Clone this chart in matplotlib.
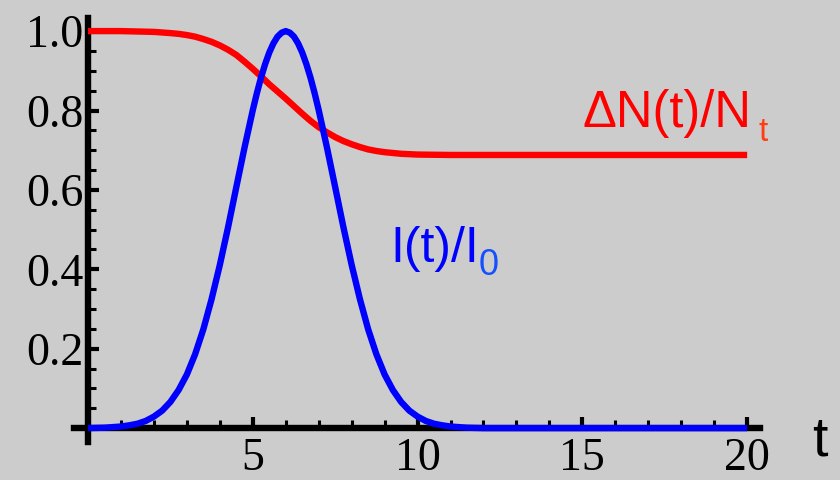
import numpy as np
import matplotlib
matplotlib.use("Agg")
import matplotlib.pyplot as plt
from matplotlib.ticker import MultipleLocator, FixedLocator

# data
t_pop = [0, 0.5, 1, 1.5, 2, 2.5, 2.75, 3, 3.25, 3.5, 3.75, 4, 4.25, 4.5, 4.75,
         5, 5.25, 5.5, 5.75, 6, 6.25, 6.5, 6.75, 7, 7.25, 7.5, 7.75, 8, 8.25,
         8.5, 8.75, 9, 9.25, 9.5, 10, 11, 12, 20]
pop = [1.000, 1.000, 1.000, 0.999, 0.998, 0.995, 0.993, 0.990, 0.986, 0.980,
       0.973, 0.964, 0.953, 0.940, 0.923, 0.905, 0.886, 0.866, 0.848, 0.830,
       0.811, 0.792, 0.774, 0.758, 0.745, 0.733, 0.723, 0.715, 0.708, 0.702,
       0.698, 0.695, 0.693, 0.691, 0.689, 0.688, 0.688, 0.688]

t_int = [0, 0.5, 1, 1.25, 1.5, 1.75, 2, 2.25, 2.5, 2.75, 3, 3.25, 3.5, 3.75,
         4, 4.25, 4.5, 4.75, 5, 5.125, 5.25, 5.375, 5.5, 5.625, 5.75, 5.875,
         6, 6.125, 6.25, 6.375, 6.5, 6.625, 6.75, 6.875, 7, 7.25, 7.5, 7.75,
         8, 8.25, 8.5, 8.75, 9, 9.25, 9.5, 9.75, 10, 10.25, 10.5, 10.75, 11,
         11.5, 12, 13, 20]
inten = [0.000, 0.001, 0.004, 0.007, 0.011, 0.018, 0.029, 0.044, 0.066, 0.096,
         0.135, 0.186, 0.249, 0.325, 0.411, 0.506, 0.607, 0.707, 0.801, 0.844,
         0.883, 0.917, 0.946, 0.969, 0.986, 0.996, 1.000, 0.996, 0.986, 0.969,
         0.946, 0.917, 0.883, 0.844, 0.801, 0.707, 0.607, 0.506, 0.411, 0.325,
         0.249, 0.186, 0.135, 0.096, 0.066, 0.044, 0.029, 0.018, 0.011, 0.007,
         0.004, 0.001, 0.000, 0.000, 0.000]

x_major = [5, 10, 15, 20]
y_major = [0.2, 0.4, 0.6, 0.8, 1.0]

bg = "#cccccc"
serif = ["Liberation Serif", "DejaVu Serif"]
sans = ["Liberation Sans", "DejaVu Sans"]

fig = plt.figure(figsize=(8.4, 4.8), dpi=100, facecolor=bg)
ax = fig.add_axes([74 / 840, 38 / 480, 686 / 840, 424 / 480])
ax.set_facecolor(bg)

ax.plot(t_pop, pop, color="#ff0000", lw=4.6, zorder=3, solid_capstyle="butt",
        solid_joinstyle="round")
ax.plot(t_int, inten, color="#0000ff", lw=4.6, zorder=3, solid_capstyle="butt",
        solid_joinstyle="round")

ax.set_xlim(-0.425, 20.39)
ax.set_ylim(-0.035, 1.033)

for s in ["top", "right"]:
    ax.spines[s].set_visible(False)
for s in ["left", "bottom"]:
    ax.spines[s].set_position(("data", 0))
    ax.spines[s].set_linewidth(4.6)
    ax.spines[s].set_color("black")

ax.xaxis.set_major_locator(FixedLocator(x_major))
ax.xaxis.set_minor_locator(MultipleLocator(1))
ax.yaxis.set_major_locator(FixedLocator(y_major))
ax.yaxis.set_minor_locator(MultipleLocator(0.05))
ax.set_xticklabels([str(v) for v in x_major])
ax.set_yticklabels(["%.1f" % v for v in y_major])

ax.tick_params(which="major", direction="in", length=8, width=3, color="black")
ax.tick_params(which="minor", direction="in", length=6, width=2.2, color="black")
ax.tick_params(axis="x", which="major", pad=7)
ax.tick_params(axis="y", which="major", pad=3.5)
for lab in ax.get_xticklabels() + ax.get_yticklabels():
    lab.set_family(serif)
    lab.set_fontsize(33)

ax.text(1.087, 0.0, "t", transform=ax.transAxes, ha="center", va="center",
        fontsize=40, family=sans, clip_on=False)

ax.text(15.0, 0.758, "\u0394N(t)/N", color="#ff0000", fontsize=36.5,
        family=sans, ha="left", va="baseline")
ax.text(20.35, 0.723, "t", color="#ff3c14", fontsize=24,
        family=sans, ha="left", va="baseline", clip_on=False)

ax.text(9.17, 0.418, "I(t)/I", color="#0000ff", fontsize=36,
        family=sans, ha="left", va="baseline")
ax.text(11.85, 0.385, "0", color="#1450ff", fontsize=26,
        family=sans, ha="left", va="baseline")

fig.savefig("out.png", dpi=100, facecolor=bg)
